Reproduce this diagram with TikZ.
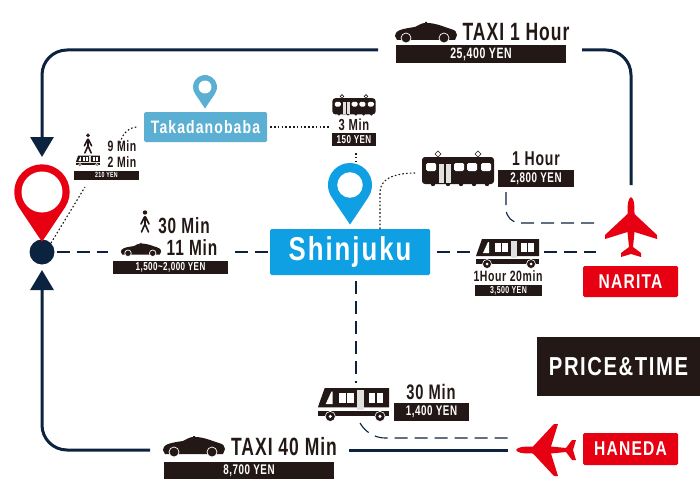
\documentclass[tikz,border=0pt]{standalone}
\usepackage{fontspec}
\setmainfont{Liberation Sans}[FakeStretch=0.7,LetterSpace=4]
\newfontfamily\widefont{Liberation Sans}[FakeStretch=0.78,LetterSpace=6]
\usetikzlibrary{arrows.meta}
\definecolor{inkblack}{HTML}{231815}
\definecolor{navyline}{HTML}{0C2340}
\definecolor{signred}{HTML}{E60012}
\definecolor{skyblue}{HTML}{0F9FE3}
\definecolor{paleblue}{HTML}{5AAFD2}
\newcommand{\fs}[1]{\fontsize{#1}{#1}\selectfont}
\tikzset{
    route/.style={draw=navyline,line width=3pt,rounded corners=25pt},
    routetip/.style={-{Triangle[width=23pt,length=20pt]}},
    dashroute/.style={draw=navyline,line width=1.1pt,dash pattern=on 13pt off 7pt},
    dotroute/.style={draw=inkblack,line width=1.1pt,dash pattern=on 1.6pt off 2.2pt},
    pricebar/.style={fill=inkblack,text=white,inner sep=0pt,font=\bfseries\fs{#1}},
    timelabel/.style={text=inkblack,inner sep=0pt,font=\bfseries\fs{#1}},
    signbox/.style={fill=#1,text=white,rounded corners=1.5pt,inner sep=0pt},
    pics/pinmark/.style 2 args={code={
        \fill[#1] (8.31,5.56) arc[start angle=33.75,end angle=-213.75,radius=10] -- (0,18) -- cycle;
        \fill[white] (0,0) circle (#2);
    }},
    pics/car/.style={code={
        \fill[inkblack] (-31,3) .. controls (-31,-2) and (-26,-4) .. (-11,-6) .. controls (-7,-8) and (-4,-10) .. (-1,-10)
            -- (-1,-11) -- (1,-11) -- (1,-10) .. controls (10,-10) and (18,-6) .. (25,-4) .. controls (29,-3) and (31,-1) .. (31,2)
            -- (29,7) -- (-29,7) -- cycle;
        \foreach \wx in {-20,18} {
            \fill[inkblack,draw=white,line width=0.7pt] (\wx,5) circle (5);
        }
    }},
    pics/tram/.style={code={
        \fill[inkblack,rounded corners=3pt] (-36,-13) rectangle (36,14);
        \foreach \px in {-20,20} {
            \draw[inkblack,line width=0.6pt] (\px,-13) -- (\px-3,-16) -- (\px,-19) -- (\px+3,-16) -- cycle;
        }
        \foreach \wx in {-25,-10,3,16,29} {
            \fill[inkblack] (\wx,14) circle (2.2);
        }
        \fill[white,rounded corners=1.5pt] (-32,-7) rectangle (-22,1);
        \fill[black!12] (-19,-6) rectangle (-7,13);
        \fill[inkblack] (-13.6,-6) rectangle (-12.4,13);
        \foreach \wx in {-4,9,23} {
            \fill[white,rounded corners=1.5pt] (\wx,-7) rectangle (\wx+10,1);
        }
    }},
    pics/bus/.style={code={
        \fill[inkblack] (-26,-14) -- (31,-14) -- (31,3) -- (-32,3) -- cycle;
        \fill[inkblack] (-32,6) rectangle (31,11);
        \foreach \wx in {-21,23} {
            \fill[inkblack,draw=white,line width=0.6pt] (\wx,11) circle (4.5);
            \fill[white] (\wx,11) circle (1.5);
        }
        \fill[white] (-25,0) -- (-20,-11) -- (-19,-11) -- (-19,0) -- cycle;
        \foreach \wx in {-13,-6,13,20} {
            \fill[white] (\wx,-10) rectangle (\wx+6,-1);
        }
        \fill[black!12] (3,-12) rectangle (9,5);
    }},
    pics/walker/.style={code={
        \fill[inkblack] (0,-9.5) circle (2.2);
        \draw[inkblack,line width=2.4pt,line cap=round] (0,-5) -- (0,2);
        \draw[inkblack,line width=1.6pt,line cap=round] (0,2) -- (-3.5,10) (0,2) -- (3.5,10) (-0.5,-5) -- (-4,2) (0.5,-5) -- (4,2);
    }},
    pics/plane/.style={code={
        \fill[signred] (0,-30) .. controls (-3,-28) and (-3.5,-24) .. (-3.5,-13) -- (-26,8) -- (-26,12) -- (-3.5,5) -- (-2,20)
            -- (-10,26) -- (-10,30) -- (0,27) -- (10,30) -- (10,26) -- (2,20) -- (3.5,5) -- (26,12) -- (26,8) -- (3.5,-13)
            .. controls (3.5,-24) and (3,-28) .. (0,-30) -- cycle;
    }},
}
\begin{document}
\begin{tikzpicture}[x=1pt,y=-1pt]
    \useasboundingbox (0,0) rectangle (700,500);
    \fill[white] (0,0) rectangle (700,500);

    % Places
    \node[circle,fill=navyline,minimum size=25pt,inner sep=0pt] (hub) at (42,252) {};
    \pic[scale=2.77] at (42,192) {pinmark={signred}{7.4}};
    \node[signbox=skyblue,minimum width=160pt,minimum height=46pt,font=\widefont\bfseries\fs{33}] (shinjuku) at (350,252) {Shinjuku};
    \pic[scale=2.2] at (350,185) {pinmark={skyblue}{5.8}};
    \node[signbox=paleblue,minimum width=123pt,minimum height=30pt,font=\widefont\bfseries\fs{18}] (takada) at (205.5,127) {Takadanobaba};
    \pic[scale=1.2] at (205,87) {pinmark={paleblue}{5.4}};
    \node[signbox=signred,minimum width=95pt,minimum height=31pt,font=\widefont\bfseries\fs{20}] (narita) at (630.5,281.5) {NARITA};
    \node[signbox=signred,minimum width=95pt,minimum height=32pt,font=\widefont\bfseries\fs{20}] (haneda) at (630.5,449) {HANEDA};
    \node[fill=inkblack,text=white,inner sep=0pt,minimum width=163pt,minimum height=59pt,font=\widefont\bfseries\fs{26}] (pricetime) at (618.5,366.5) {PRICE\&TIME};
    \pic at (631,227) {plane};
    \pic[rotate=90] at (546,450) {plane};

    % Free ends of the connectors
    \coordinate (topleft) at (378,50);
    \coordinate (pintop) at (42,157);
    \coordinate (corner1) at (42,50);
    \coordinate (topright) at (582,50);
    \coordinate (corner2) at (631,50);
    \coordinate (naritatop) at (631,185);
    \coordinate (hubbottom) at (42,270);
    \coordinate (corner3) at (42,450);
    \coordinate (botleft) at (150,450);
    \coordinate (botright) at (349,450);
    \coordinate (hanedaleft) at (508,450);
    \coordinate (walkend1) at (108,252);
    \coordinate (walkend2) at (235,252);
    \coordinate (busend1) at (473,252);
    \coordinate (busend2) at (544,252);
    \coordinate (naritaleft) at (596,252);
    \coordinate (trainend) at (506,192);
    \coordinate (naritaleft2) at (596,223);
    \coordinate (corner4) at (506,223);
    \coordinate (hanedabus) at (356,383);
    \coordinate (buscurve) at (360,423);
    \coordinate (hanedaleft2) at (508,438);

    % Taxi routes
    \draw[route,routetip] (topleft) -- (corner1) -- (pintop);
    \draw[route] (topright) -- (corner2) -- (naritatop);
    \draw[route,routetip] (botleft) -- (corner3) -- (hubbottom);
    \draw[route] (botright) -- (hanedaleft);

    % Dashed routes
    \draw[dashroute] (hub.east) ++(2,0) -- (walkend1);
    \draw[dashroute] (walkend2) -- (shinjuku.west);
    \draw[dashroute] (shinjuku.east) ++(7,0) -- (busend1);
    \draw[dashroute] (busend2) -- (naritaleft);
    \draw[dashroute,rounded corners=14pt] (trainend) -- (corner4) -- (naritaleft2);
    \draw[dashroute] (shinjuku.south) ++(6,6) -- (hanedabus);
    \draw[dashroute] (buscurve) .. controls (365,432) and (375,438) .. (385,438) -- (hanedaleft2);

    % Dotted routes
    \coordinate (d1) at (85,187);
    \coordinate (d2) at (120,143);
    \coordinate (d3) at (138,127);
    \coordinate (d4) at (330,127);
    \coordinate (d5) at (356,153);
    \coordinate (d6) at (356,162);
    \coordinate (d7) at (380,229);
    \coordinate (d8) at (416,173);
    \draw[dotroute] (hub.north east) -- (d1);
    \draw[dotroute] (d2) .. controls (123,132) and (130,127) .. (d3);
    \draw[dotroute] (takada.east) ++(3,0) -- (d4);
    \draw[dotroute] (d5) -- (d6);
    \draw[dotroute] (d7) -- (380,192) .. controls (380,180) and (392,173) .. (d8);

    % Top taxi
    \pic at (426,33) {car};
    \node[timelabel=25] (taxione) at (516,32) {TAXI 1 Hour};
    \node[pricebar=15,minimum width=170pt,minimum height=18pt] (taxioneprice) at (481,54) {25,400 YEN};

    % Left group
    \pic[scale=0.9] at (88,144) {walker};
    \node[timelabel=15] (walknine) at (122,146) {9 Min};
    \pic[scale=0.38] at (88,161) {bus};
    \node[timelabel=15] (bustwo) at (122,162) {2 Min};
    \node[pricebar=7.5,minimum width=65pt,minimum height=9pt] (busprice) at (106.5,175) {210 YEN};

    % Walk and car to Shinjuku
    \pic at (145,222) {walker};
    \node[timelabel=22] (walkthirty) at (184,226) {30 Min};
    \pic[scale=0.65] at (141,250) {car};
    \node[timelabel=22] (careleven) at (192,248) {11 Min};
    \node[pricebar=11.5,minimum width=115pt,minimum height=13pt] (carprice) at (170.5,267) {1,500\textasciitilde 2,000 YEN};

    % Trains
    \pic[scale=0.6] at (354,106) {tram};
    \node[timelabel=16] (tramthree) at (354,125) {3 Min};
    \node[pricebar=11.5,minimum width=44pt,minimum height=13pt] (tramprice) at (354,139.5) {150 YEN};
    \pic at (458,170) {tram};
    \node[timelabel=20] (tramhour) at (536,159) {1 Hour};
    \node[pricebar=14,minimum width=76pt,minimum height=17pt] (tramhourprice) at (536,178.5) {2,800 YEN};

    % Buses
    \pic at (508,253) {bus};
    \node[timelabel=15] (bushour) at (508,276) {1Hour 20min};
    \node[pricebar=10,minimum width=67pt,minimum height=11pt] (bushourprice) at (508.5,290.5) {3,500 YEN};
    \pic[scale=1.13] at (354,404) {bus};
    \node[timelabel=21] (busthirty) at (431,392) {30 Min};
    \node[pricebar=14,minimum width=75pt,minimum height=18pt] (busthirtyprice) at (431.5,412) {1,400 YEN};

    % Bottom taxi
    \pic at (194,447) {car};
    \node[timelabel=25] (taxiforty) at (284,447) {TAXI 40 Min};
    \node[pricebar=14,minimum width=170pt,minimum height=17pt] (taxifortyprice) at (249,470.5) {8,700 YEN};
\end{tikzpicture}
\end{document}
